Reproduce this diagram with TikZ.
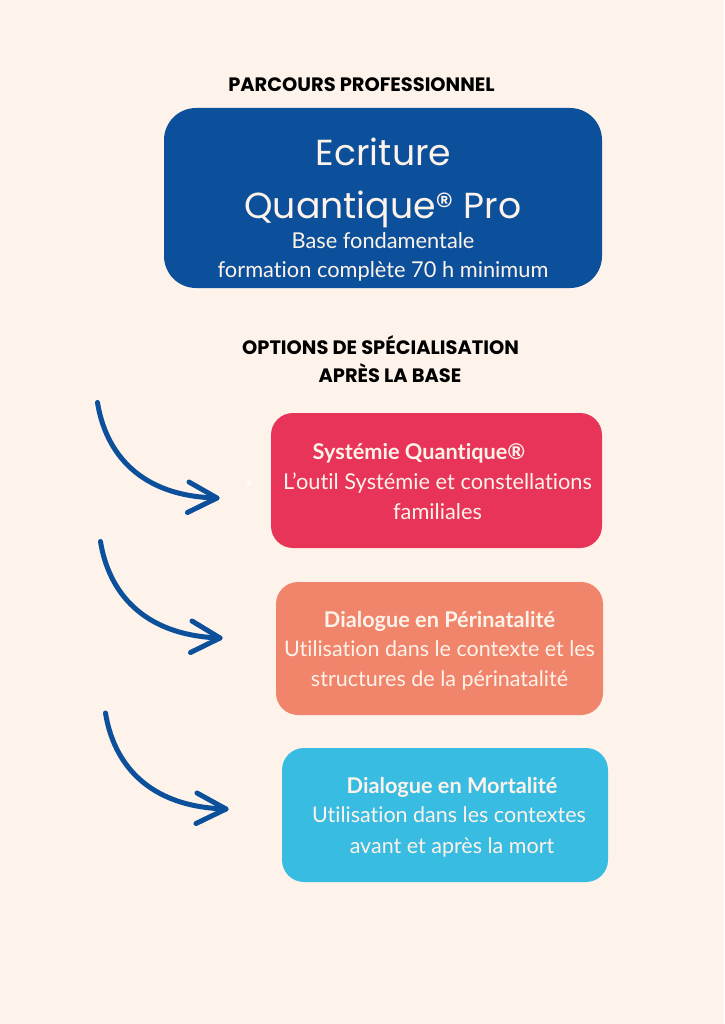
\documentclass[tikz,border=0pt]{standalone}
\usepackage{fontspec}
\setmainfont[Ligatures=NoCommon]{Lato}
\newfontfamily\headfont[UprightFont={* Bold},BoldFont={* Bold}]{Poppins}
\newfontfamily\titlefont{Poppins}
\usetikzlibrary{calc}
\definecolor{bgc}{HTML}{FDF3EA}
\definecolor{bluec}{HTML}{0C509C}
\definecolor{redc}{HTML}{E73458}
\definecolor{salmonc}{HTML}{F0856B}
\definecolor{cyanc}{HTML}{38BCE2}
\definecolor{txtc}{HTML}{FDF3EA}
\tikzset{
  x=1pt,y=-1pt,
  card/.style={rounded corners=#1,inner sep=0pt,outer sep=0pt},
  line/.style={anchor=center,inner sep=0pt,text height=.72em,text depth=.2em},
  heading/.style={line,yshift=-5pt,font=\headfont\fontsize{19.4}{22}\selectfont,text=black},
  bigline/.style={line,yshift=-11pt,font=\titlefont\fontsize{36.2}{40}\selectfont,text=txtc},
  body/.style={line,yshift=-6pt,font=\fontsize{21.8}{25}\selectfont,text=txtc},
  bodys/.style={line,yshift=-6pt,font=\fontsize{21.5}{25}\selectfont,text=txtc},
  bodyb/.style={line,yshift=-6pt,font=\bfseries\fontsize{21.7}{25}\selectfont,text=txtc},
  curve/.style={draw=bluec,line width=5pt,line cap=round,line join=round},
}
\begin{document}
\begin{tikzpicture}
\path[use as bounding box,fill=bgc] (0,0) rectangle (724,1024);
\fill[bluec,card=32] (164,108) rectangle (602,288);
\fill[redc,card=22] (271,413) rectangle (602,548);
\fill[salmonc,card=22] (276,582) rectangle (603,715);
\fill[cyanc,card=22] (282,748) rectangle (608,882);
\fill[white,opacity=.7] (249,483) circle (2.5);

\node[heading] (h1) at (361.5,84) {PARCOURS PROFESSIONNEL};
\node[bigline] (t1) at (383.5,152) {Ecriture};
\node[bigline] (t2) at (383,205) {Quantique® Pro};
\node[body] (t3) at (383,240) {Base fondamentale};
\node[body] (t4) at (383,269) {formation complète 70 h minimum};
\node[heading] (h2) at (380.5,347) {OPTIONS DE SPÉCIALISATION};
\node[heading] (h3) at (390,375) {APRÈS LA BASE};

\node[bodyb] (a1) at (419,451) {Systémie Quantique®};
\node[body] (a2) at (437.5,481) {L’outil Systémie et constellations};
\node[body] (a3) at (437.5,511) {familiales};

\node[bodyb] (b1) at (439.5,619) {Dialogue en Périnatalité};
\node[bodys] (b2) at (439.5,648) {Utilisation dans le contexte et les};
\node[bodys] (b3) at (439.5,678) {structures de la périnatalité};

\node[bodyb] (c1) at (452,785) {Dialogue en Mortalité};
\node[bodys] (c2) at (449,814) {Utilisation dans les contextes};
\node[bodys] (c3) at (452,845) {avant et après la mort};

\coordinate (s1) at (97.5,402.5); \coordinate (e1) at (217,498);
\coordinate (u1) at (189,482); \coordinate (d1) at (187.5,512.5);
\coordinate (s2) at (100.5,541.5); \coordinate (e2) at (220,638);
\coordinate (u2) at (192,621); \coordinate (d2) at (190.5,652.5);
\coordinate (s3) at (105.5,713); \coordinate (e3) at (226,809);
\coordinate (u3) at (197,793); \coordinate (d3) at (196,823.5);

\draw[curve] (s1) .. controls ($(s1)+(8,50)$) and ($(s1)+(42,94)$) .. (e1);
\draw[curve] (u1) -- (e1) -- (d1);
\draw[curve] (s2) .. controls ($(s2)+(8,50)$) and ($(s2)+(42,94)$) .. (e2);
\draw[curve] (u2) -- (e2) -- (d2);
\draw[curve] (s3) .. controls ($(s3)+(8,50)$) and ($(s3)+(42,94)$) .. (e3);
\draw[curve] (u3) -- (e3) -- (d3);
\end{tikzpicture}
\end{document}
